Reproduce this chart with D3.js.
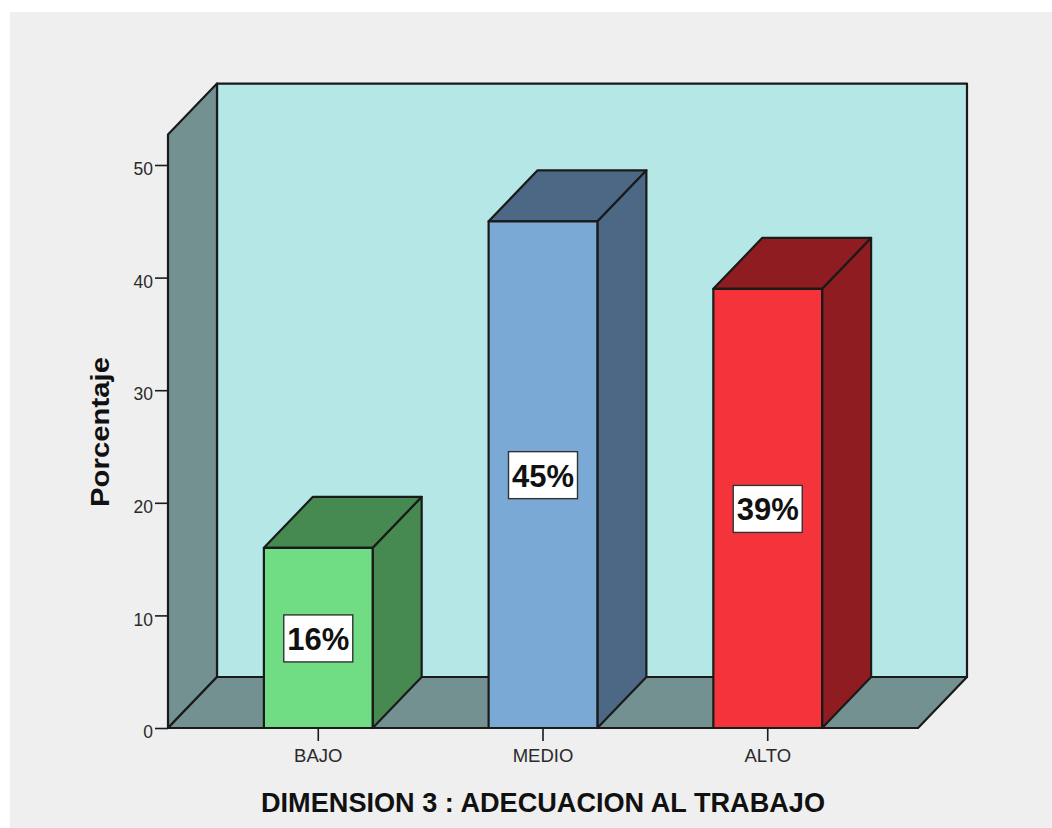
<!DOCTYPE html>
<html>
<head>
<meta charset="utf-8">
<script src="https://cdn.jsdelivr.net/npm/d3@7/dist/d3.min.js"></script>
<style>
  html, body { margin: 0; padding: 0; background: #fff; }
  svg { display: block; }
  text { font-family: "Liberation Sans", Arial, sans-serif; }
</style>
</head>
<body>
<svg id="chart" width="1052" height="828"></svg>
<script>
const categories = ["BAJO", "MEDIO", "ALTO"];
const percentages = [16, 45, 39];
const frontColors = ["#70dd85", "#7ba9d6", "#f4333b"];
const shadeColors = ["#468a52", "#4c6885", "#8f1c20"];
const yTicks = [0, 10, 20, 30, 40, 50];
const yAxisTitle = "Porcentaje";
const xAxisTitle = "DIMENSION 3 : ADECUACION AL TRABAJO";

const svg = d3.select("#chart");
const ink = "#1a1a1a";
const depthX = 49, depthY = -51;

const x = d3.scaleBand().domain(categories).range([168, 918])
  .paddingInner(0.516).paddingOuter(0.4267);
const y = d3.scaleLinear().domain([0, 50]).range([728, 165]);
const wallTop = 52.7;

// Poster panel behind the chart
svg.append("rect").attr("x", 10).attr("y", 12).attr("width", 1042).attr("height", 816).attr("fill", "#efefef");

const poly = (pts, fill, width = 2.2) => svg.append("polygon")
  .attr("points", pts.map(p => p.join(",")).join(" "))
  .attr("fill", fill).attr("stroke", ink).attr("stroke-width", width)
  .attr("stroke-linejoin", "round");

const [xLeft, xRight] = x.range();
const yBase = y(0), yTop = y(wallTop);

// Box of the 3D plot: back wall, side wall and floor
poly([[xLeft + depthX, yTop + depthY], [xRight + depthX, yTop + depthY], [xRight + depthX, yBase + depthY], [xLeft + depthX, yBase + depthY]], "#b5e7e7");
poly([[xLeft, yTop], [xLeft + depthX, yTop + depthY], [xLeft + depthX, yBase + depthY], [xLeft, yBase]], "#739191");
poly([[xLeft, yBase], [xLeft + depthX, yBase + depthY], [xRight + depthX, yBase + depthY], [xRight, yBase]], "#739191");

// Axes
const yAxis = svg.append("g").attr("transform", `translate(${xLeft},0)`)
  .call(d3.axisLeft(y).tickValues(yTicks).tickSize(13).tickPadding(2));
yAxis.select(".domain").remove();
yAxis.selectAll("line").attr("stroke", ink).attr("stroke-width", 1.6);
yAxis.selectAll("text").attr("font-size", 17.5).attr("fill", "#2a2a2a").attr("dy", "0.55em")
  .attr("font-family", "Liberation Sans");

const xAxis = svg.append("g").attr("transform", `translate(0,${yBase})`)
  .call(d3.axisBottom(x).tickSize(13).tickPadding(8));
xAxis.select(".domain").remove();
xAxis.selectAll("line").attr("stroke", ink).attr("stroke-width", 1.6);
xAxis.selectAll("text").attr("font-size", 18.5).attr("fill", "#2a2a2a")
  .attr("font-family", "Liberation Sans");

// Bars as extruded boxes: side, top, front
categories.forEach((c, i) => {
  const v = percentages[i];
  const x0 = x(c), x1 = x0 + x.bandwidth(), yv = y(v);
  poly([[x1, yBase], [x1, yv], [x1 + depthX, yv + depthY], [x1 + depthX, yBase + depthY]], shadeColors[i]);
  poly([[x0, yv], [x0 + depthX, yv + depthY], [x1 + depthX, yv + depthY], [x1, yv]], shadeColors[i]);
  poly([[x0, yBase], [x0, yv], [x1, yv], [x1, yBase]], frontColors[i]);
});

// Value labels centred on each front face
categories.forEach((c, i) => {
  const v = percentages[i];
  const cx = x(c) + x.bandwidth() / 2, cy = (y(v) + yBase) / 2;
  svg.append("rect").attr("x", cx - 34.5).attr("y", cy - 23).attr("width", 69).attr("height", 47)
    .attr("fill", "#fff").attr("stroke", "#333").attr("stroke-width", 1.4);
  svg.append("text").attr("x", cx).attr("y", cy + 12).attr("text-anchor", "middle")
    .attr("font-size", 31).attr("font-weight", "bold").attr("fill", "#111")
    .attr("textLength", 62).attr("lengthAdjust", "spacingAndGlyphs")
    .text(`${v}%`);
});

// Axis titles
svg.append("text").attr("transform", "translate(109,432) rotate(-90)").attr("text-anchor", "middle")
  .attr("font-size", 25).attr("font-weight", "bold").attr("fill", "#111")
  .attr("textLength", 150).attr("lengthAdjust", "spacingAndGlyphs").text(yAxisTitle);
svg.append("text").attr("x", 543).attr("y", 812).attr("text-anchor", "middle")
  .attr("font-size", 27.5).attr("font-weight", "bold").attr("fill", "#111")
  .attr("textLength", 564).attr("lengthAdjust", "spacingAndGlyphs").text(xAxisTitle);
</script>
</body>
</html>
